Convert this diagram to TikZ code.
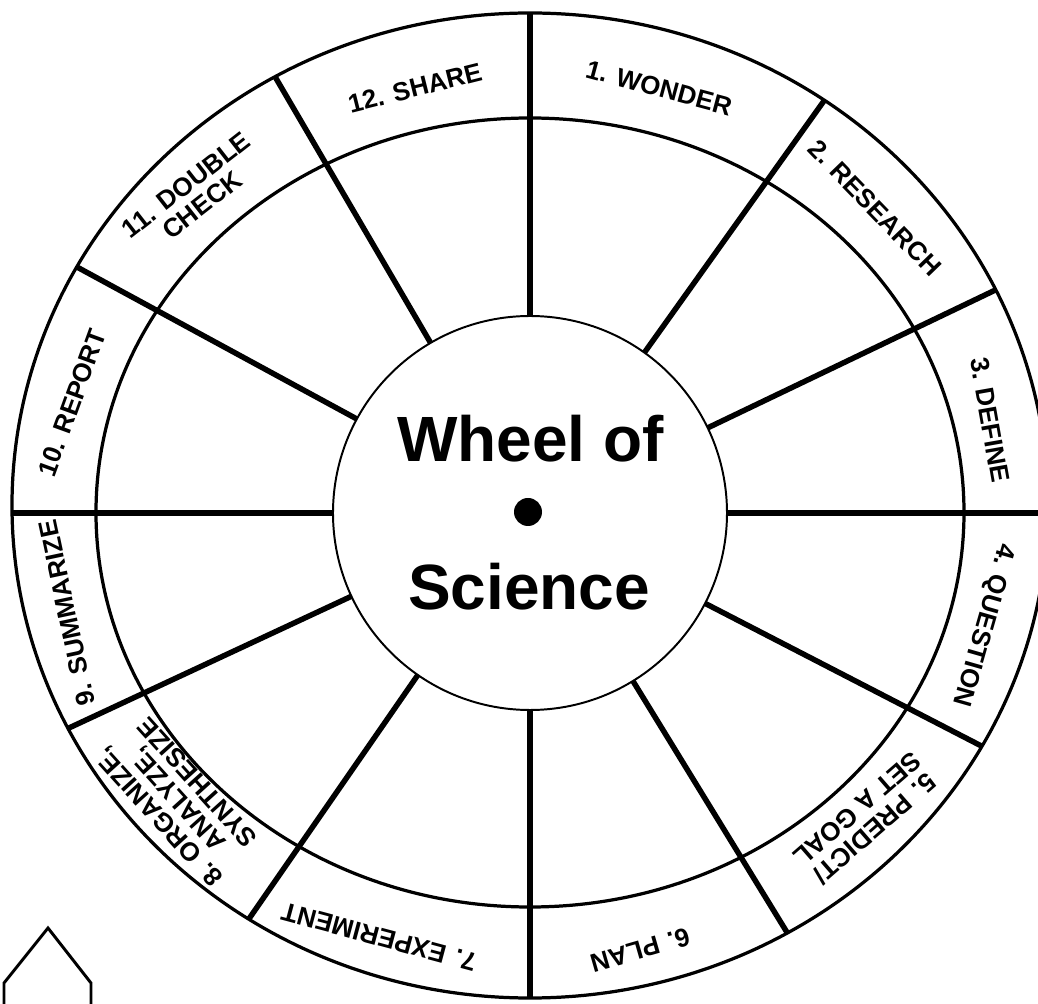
\documentclass[tikz,border=0pt]{standalone}
\usepackage{fontspec}
\setmainfont{Liberation Sans}
\tikzset{
  stagelbl/.style={font=\fontsize{18.5}{18.5}\selectfont\bfseries, align=center, inner sep=0pt},
  spoke/.style={line width=3.9pt},
  ring/.style={line width=2.3pt}
}
\begin{document}
\begin{tikzpicture}[x=0.025cm, y=0.025cm]
  \useasboundingbox[fill=white] (-530,-491) rectangle (508,513);
  % rings of the wheel
  \draw[ring] (0,7.5) ellipse [x radius=518, y radius=492.5];
  \draw[ring] (0,0.5) ellipse [x radius=434, y radius=394.5];
  \draw[line width=1.4pt] (0,0) circle [radius=197];
  % spokes, cut at the rim
  \begin{scope}
    \clip (0,7.5) ellipse [x radius=518, y radius=492.5];
    \foreach \a in {90,54.5,25.6,0,-27.3,-58.5,-90,-124.7,-155,180,151.5,120.3}
      \draw[spoke] (\a:197) -- (\a:600);
  \end{scope}
  % hub
  \fill (-2,1) circle [radius=14];
  \node[anchor=base, inner sep=0pt, font=\fontsize{45.5}{46}\selectfont\bfseries] (top) at (0.5,51) {Wheel of};
  \node[anchor=base, inner sep=0pt, font=\fontsize{45.5}{46}\selectfont\bfseries] (bottom) at (-1,-97) {Science};
  % stages
  \node[stagelbl, rotate=-15] (s1) at (129,425) {1. WONDER};
  \node[stagelbl, rotate=-46] (s2) at (345,305) {2. RESEARCH};
  \node[stagelbl, rotate=-80] (s3) at (460,93) {3. DEFINE};
  \node[stagelbl, rotate=-106] (s4) at (453,-112) {4. QUESTION};
  \node[stagelbl, rotate=-139] (s5) at (336,-306) {5. PREDICT/\\SET A GOAL};
  \node[stagelbl, rotate=-164] (s6) at (110,-437) {6. PLAN};
  \node[stagelbl, rotate=165] (s7) at (-151,-424) {7. EXPERIMENT};
  \node[stagelbl, rotate=132] (s8) at (-352,-287) {8. ORGANIZE,\\ANALYZE,\\SYNTHESIZE};
  \node[stagelbl, rotate=102] (s9) at (-463,-100) {9. SUMMARIZE};
  \node[stagelbl, rotate=70] (s10) at (-458,110) {10. REPORT};
  \node[stagelbl, rotate=38] (s11) at (-336,318) {11. DOUBLE\\CHECK};
  \node[stagelbl, rotate=14] (s12) at (-115,425) {12. SHARE};
  % pointer, cut by the page edge
  \draw[line width=2.1pt] (-526,-500) -- (-526,-470) -- (-482,-415) -- (-439,-470) -- (-439,-500);
\end{tikzpicture}
\end{document}
